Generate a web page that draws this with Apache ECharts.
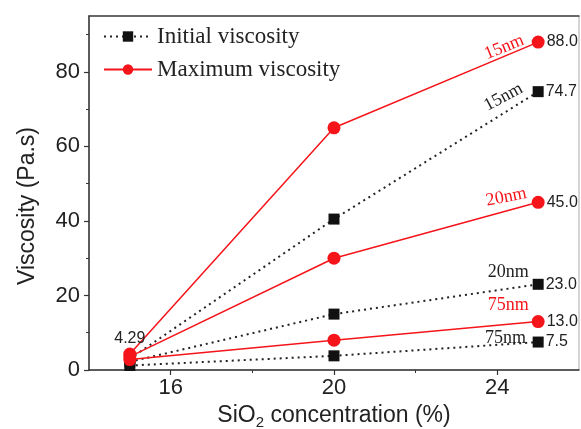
<!DOCTYPE html>
<html><head><meta charset="utf-8">
<script src="https://cdn.jsdelivr.net/npm/echarts@6/dist/echarts.min.js"></script>
<style>html,body{margin:0;padding:0;background:#fff}#c{width:581px;height:429px}</style>
</head><body><div id="c"></div>
<script>
const xValues = [15, 20, 25];
const initial15 = [3.0, 40.5, 74.7];
const initial20 = [2.2, 15.0, 23.0];
const initial75 = [1.2, 3.8, 7.5];
const max15 = [4.29, 65.0, 88.0];
const max20 = [3.6, 30.0, 45.0];
const max75 = [2.8, 8.0, 13.0];
const xMajorTicks = [16, 20, 24];
const xMinorTicks = [18, 22];
const yMajorTicks = [0, 20, 40, 60, 80];
const yMinorTicks = [10, 30, 50, 70, 90];
// annotation: [text, x, y, rotate, colorKey]
const annotations = [
  ['15nm', 24.17, 86.6, 22, 'red'],
  ['15nm', 24.15, 73.2, 28, 'black'],
  ['20nm', 24.22, 46.4, 11, 'red'],
  ['20nm', 24.27, 26.3, 0, 'black'],
  ['75nm', 24.27, 17.4, 0, 'red'],
  ['75nm', 24.2, 8.6, 0, 'black']
];

const RED = '#f5141a';
const BLACK = '#111';
const SANS = 'Liberation Sans';
const SERIF = 'Liberation Serif';

function buildData(vals, labelFirst) {
  return vals.map((v, i) => {
    const item = { value: [xValues[i], v] };
    if (i === vals.length - 1) {
      item.label = { show: true, position: 'right', distance: 2, formatter: v.toFixed(1) };
    } else if (i === 0 && labelFirst) {
      item.label = { show: true, position: 'top', distance: 1, formatter: String(v) };
    }
    return item;
  });
}
const labelStyle = { color: '#222', fontFamily: SANS, fontSize: 16 };

function initSeries(vals, marks) {
  return {
    name: 'Initial viscosity', type: 'line', xAxisIndex: 0, yAxisIndex: 0,
    data: buildData(vals, false),
    symbol: 'rect', symbolSize: 11,
    itemStyle: { color: BLACK },
    lineStyle: { color: '#222', width: 2, type: [2, 4] },
    label: labelStyle, z: 3,
    markPoint: marks
  };
}
function maxSeries(vals, labelFirst, marks) {
  return {
    name: 'Maximum viscosity', type: 'line', xAxisIndex: 0, yAxisIndex: 0,
    data: buildData(vals, labelFirst),
    symbol: 'circle', symbolSize: 13,
    itemStyle: { color: RED },
    lineStyle: { color: RED, width: 1.5, type: 'solid' },
    label: labelStyle, z: 4,
    markPoint: marks
  };
}
function annMarks(colorKey) {
  return {
    symbol: 'circle', symbolSize: 0, silent: true,
    data: annotations.filter(a => a[4] === colorKey).map(a => ({
      coord: [a[1], a[2]],
      label: { show: true, position: 'inside', formatter: a[0], rotate: a[3],
        color: colorKey === 'red' ? RED : '#222', fontFamily: SERIF, fontSize: 18 }
    }))
  };
}

const chart = echarts.init(document.getElementById('c'), null, { renderer: 'canvas' });
const axisLineStyle = { color: '#333', width: 1.5 };
chart.setOption({
  animation: false,
  backgroundColor: '#fff',
  grid: { left: 89, top: 16, right: 2, bottom: 59, show: true, borderColor: '#aaa', borderWidth: 1,
    backgroundColor: 'transparent', outerBoundsMode: 'none', containLabel: false },
  legend: {
    orient: 'vertical', left: 98, top: 20, itemWidth: 48, itemHeight: 13, itemGap: 10,
    textStyle: { fontFamily: SERIF, fontSize: 23, color: '#222' },
    data: ['Initial viscosity', 'Maximum viscosity']
  },
  xAxis: [{
    type: 'value', min: 14, max: 26,
    name: 'SiO{sub|2} concentration (%)', nameLocation: 'middle', nameGap: 28,
    nameTextStyle: { fontFamily: SANS, fontSize: 23, color: '#222',
      rich: { sub: { fontFamily: SANS, fontSize: 15, color: '#222', verticalAlign: 'bottom', padding: [14, 0, 0, 0] } } },
    axisLine: { show: true, lineStyle: axisLineStyle },
    axisTick: { show: true, length: 5, customValues: xMajorTicks, lineStyle: { color: '#333', width: 1.2 } },
    axisLabel: { customValues: xMajorTicks, margin: 7, fontFamily: SANS, fontSize: 22, color: '#222' },
    splitLine: { show: false }
  }, {
    type: 'value', min: 14, max: 26, position: 'bottom',
    axisLine: { show: false },
    axisTick: { show: true, length: 3, customValues: xMinorTicks, lineStyle: { color: '#333', width: 1 } },
    axisLabel: { show: false }, splitLine: { show: false }
  }, {
    type: 'value', min: 14, max: 26, position: 'top',
    axisLine: { show: true, lineStyle: { color: '#444', width: 1.5 } },
    axisTick: { show: false }, axisLabel: { show: false }, splitLine: { show: false }
  }],
  yAxis: [{
    type: 'value', min: 0, max: 95,
    name: 'Viscosity (Pa.s)', nameLocation: 'middle', nameGap: 50,
    nameTextStyle: { fontFamily: SANS, fontSize: 23, color: '#222', padding: [0, 26, 0, 0] },
    axisLine: { show: true, lineStyle: axisLineStyle },
    axisTick: { show: true, length: 5, customValues: yMajorTicks, lineStyle: { color: '#333', width: 1.2 } },
    axisLabel: { customValues: yMajorTicks, margin: 9, fontFamily: SANS, fontSize: 22, color: '#222' },
    splitLine: { show: false }
  }, {
    type: 'value', min: 0, max: 95, position: 'left',
    axisLine: { show: false },
    axisTick: { show: true, length: 3, customValues: yMinorTicks, lineStyle: { color: '#333', width: 1 } },
    axisLabel: { show: false }, splitLine: { show: false }
  }],
  series: [
    initSeries(initial15, annMarks('black')),
    initSeries(initial20),
    initSeries(initial75),
    maxSeries(max15, true, annMarks('red')),
    maxSeries(max20, false),
    maxSeries(max75, false)
  ]
});
</script></body></html>
